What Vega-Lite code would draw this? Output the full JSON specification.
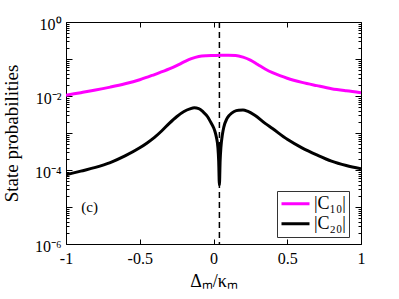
{
  "$schema": "https://vega.github.io/schema/vega-lite/v6.json",
  "width": 295,
  "height": 222,
  "autosize": "none",
  "padding": {"left": 66, "top": 22, "right": 38, "bottom": 55},
  "background": "white",
  "config": {
    "view": {"stroke": "black", "strokeWidth": 1},
    "font": "Liberation Serif",
    "text": {"font": "Liberation Serif"},
    "axis": {"grid": false, "domain": false, "tickColor": "black", "labelColor": "black", "titleColor": "black", "labelFont": "Liberation Serif", "titleFont": "Liberation Serif", "titleFontWeight": "normal"},
    "legend": {"labelFont": "Liberation Serif"}
  },
  "datasets": {
    "curves": [
      {"x": -1, "p": 0.01047, "s": "|C₁₀|"},
      {"x": -0.9, "p": 0.0123, "s": "|C₁₀|"},
      {"x": -0.8, "p": 0.01445, "s": "|C₁₀|"},
      {"x": -0.7, "p": 0.01738, "s": "|C₁₀|"},
      {"x": -0.6, "p": 0.02138, "s": "|C₁₀|"},
      {"x": -0.5, "p": 0.02754, "s": "|C₁₀|"},
      {"x": -0.4, "p": 0.03802, "s": "|C₁₀|"},
      {"x": -0.3, "p": 0.0537, "s": "|C₁₀|"},
      {"x": -0.25, "p": 0.06607, "s": "|C₁₀|"},
      {"x": -0.2, "p": 0.08318, "s": "|C₁₀|"},
      {"x": -0.15, "p": 0.1023, "s": "|C₁₀|"},
      {"x": -0.1, "p": 0.1175, "s": "|C₁₀|"},
      {"x": -0.05, "p": 0.123, "s": "|C₁₀|"},
      {"x": 0, "p": 0.1245, "s": "|C₁₀|"},
      {"x": 0.05, "p": 0.1259, "s": "|C₁₀|"},
      {"x": 0.1, "p": 0.1259, "s": "|C₁₀|"},
      {"x": 0.15, "p": 0.1245, "s": "|C₁₀|"},
      {"x": 0.2, "p": 0.1122, "s": "|C₁₀|"},
      {"x": 0.25, "p": 0.0933, "s": "|C₁₀|"},
      {"x": 0.3, "p": 0.0708, "s": "|C₁₀|"},
      {"x": 0.35, "p": 0.0537, "s": "|C₁₀|"},
      {"x": 0.4, "p": 0.0427, "s": "|C₁₀|"},
      {"x": 0.45, "p": 0.0355, "s": "|C₁₀|"},
      {"x": 0.5, "p": 0.0302, "s": "|C₁₀|"},
      {"x": 0.6, "p": 0.0234, "s": "|C₁₀|"},
      {"x": 0.7, "p": 0.0191, "s": "|C₁₀|"},
      {"x": 0.8, "p": 0.0158, "s": "|C₁₀|"},
      {"x": 0.9, "p": 0.0138, "s": "|C₁₀|"},
      {"x": 1, "p": 0.0123, "s": "|C₁₀|"},
      {"x": -1, "p": 0.0000741, "s": "|C₂₀|"},
      {"x": -0.9, "p": 0.0000933, "s": "|C₂₀|"},
      {"x": -0.8, "p": 0.0001175, "s": "|C₂₀|"},
      {"x": -0.7, "p": 0.0001585, "s": "|C₂₀|"},
      {"x": -0.6, "p": 0.0002399, "s": "|C₂₀|"},
      {"x": -0.5, "p": 0.0003981, "s": "|C₂₀|"},
      {"x": -0.45, "p": 0.000537, "s": "|C₂₀|"},
      {"x": -0.4, "p": 0.0007586, "s": "|C₂₀|"},
      {"x": -0.35, "p": 0.001148, "s": "|C₂₀|"},
      {"x": -0.3, "p": 0.00182, "s": "|C₂₀|"},
      {"x": -0.25, "p": 0.002754, "s": "|C₂₀|"},
      {"x": -0.2, "p": 0.003802, "s": "|C₂₀|"},
      {"x": -0.16, "p": 0.004467, "s": "|C₂₀|"},
      {"x": -0.13, "p": 0.004786, "s": "|C₂₀|"},
      {"x": -0.1, "p": 0.004571, "s": "|C₂₀|"},
      {"x": -0.07, "p": 0.003715, "s": "|C₂₀|"},
      {"x": -0.04, "p": 0.002754, "s": "|C₂₀|"},
      {"x": -0.02, "p": 0.001995, "s": "|C₂₀|"},
      {"x": 0, "p": 0.001413, "s": "|C₂₀|"},
      {"x": 0.01, "p": 0.001096, "s": "|C₂₀|"},
      {"x": 0.02, "p": 0.0007586, "s": "|C₂₀|"},
      {"x": 0.03, "p": 0.0003981, "s": "|C₂₀|"},
      {"x": 0.035, "p": 0.0001778, "s": "|C₂₀|"},
      {"x": 0.04, "p": 0.00003981, "s": "|C₂₀|"},
      {"x": 0.045, "p": 0.0001778, "s": "|C₂₀|"},
      {"x": 0.05, "p": 0.0003981, "s": "|C₂₀|"},
      {"x": 0.06, "p": 0.0008913, "s": "|C₂₀|"},
      {"x": 0.07, "p": 0.001445, "s": "|C₂₀|"},
      {"x": 0.09, "p": 0.002399, "s": "|C₂₀|"},
      {"x": 0.11, "p": 0.00309, "s": "|C₂₀|"},
      {"x": 0.14, "p": 0.003802, "s": "|C₂₀|"},
      {"x": 0.17, "p": 0.004121, "s": "|C₂₀|"},
      {"x": 0.2, "p": 0.004169, "s": "|C₂₀|"},
      {"x": 0.23, "p": 0.00389, "s": "|C₂₀|"},
      {"x": 0.28, "p": 0.00302, "s": "|C₂₀|"},
      {"x": 0.35, "p": 0.00182, "s": "|C₂₀|"},
      {"x": 0.4, "p": 0.001318, "s": "|C₂₀|"},
      {"x": 0.5, "p": 0.0006761, "s": "|C₂₀|"},
      {"x": 0.6, "p": 0.0003981, "s": "|C₂₀|"},
      {"x": 0.7, "p": 0.000257, "s": "|C₂₀|"},
      {"x": 0.8, "p": 0.0001738, "s": "|C₂₀|"},
      {"x": 0.9, "p": 0.0001318, "s": "|C₂₀|"},
      {"x": 1, "p": 0.0001072, "s": "|C₂₀|"}
    ]
  },
  "layer": [
    {
      "data": {"values": [{"x": 0.04}]},
      "mark": {"type": "rule", "color": "black", "strokeWidth": 1.5, "strokeDash": [6, 4]},
      "encoding": {
        "x": {"field": "x", "type": "quantitative", "scale": {"domain": [-1, 1], "nice": false}, "axis": null}
      }
    },
    {
      "data": {"name": "curves"},
      "mark": {"type": "line", "strokeWidth": 3, "clip": true, "interpolate": "monotone"},
      "encoding": {
        "x": {"field": "x", "type": "quantitative", "scale": {"domain": [-1, 1], "nice": false},
          "axis": {"orient": "bottom", "values": [-1, -0.5, 0, 0.5, 1], "tickSize": -5, "labelPadding": 11, "labelFontSize": 16, "labelFont": "Liberation Serif", "labelExpr": "'' + datum.value", "title": "Δₘ/κₘ", "titleFont": "Liberation Serif", "titleFontSize": 18, "titlePadding": 6, "labelFlush": false}},
        "y": {"field": "p", "type": "quantitative", "scale": {"type": "log", "domain": [0.000001, 1], "nice": false},
          "axis": {"orient": "left", "values": [0.000001, 0.00001, 0.0001, 0.001, 0.01, 0.1, 1], "tickSize": -6, "labelPadding": 11, "labelFontSize": 16, "labelFont": "Liberation Serif", "labelOffset": 2,
            "labelExpr": "round(log(datum.value)/LN10) == 0 ? '10⁰' : round(log(datum.value)/LN10) == -2 ? '10⁻²' : round(log(datum.value)/LN10) == -4 ? '10⁻⁴' : round(log(datum.value)/LN10) == -6 ? '10⁻⁶' : ''",
            "title": "State probabilities", "titleFont": "Liberation Serif", "titleFontSize": 19, "titlePadding": 13}},
        "color": {"field": "s", "type": "nominal", "scale": {"domain": ["|C₁₀|", "|C₂₀|"], "range": ["#ff00ff", "#000000"]},
          "legend": {"orient": "none", "legendX": 211, "legendY": 169, "title": null, "symbolType": "stroke", "symbolSize": 784, "symbolStrokeWidth": 3, "clipHeight": 19.5, "labelFontSize": 18, "labelFont": "Liberation Serif", "labelColor": "black", "strokeColor": "#333", "fillColor": "white", "padding": 3, "rowPadding": 0, "labelOffset": 3}}
      }
    },
    {
      "data": {"values": [{"p": 1}]},
      "mark": {"type": "point", "opacity": 0},
      "encoding": {
        "y": {"field": "p", "type": "quantitative", "scale": {"type": "log", "domain": [0.000001, 1], "nice": false},
          "axis": {"orient": "left", "values": [0.000002,0.000003,0.000004,0.000005,0.000006,0.000007,0.000008,0.000009,0.00002,0.00003,0.00004,0.00005,0.00006,0.00007,0.00008,0.00009,0.0002,0.0003,0.0004,0.0005,0.0006,0.0007,0.0008,0.0009,0.002,0.003,0.004,0.005,0.006,0.007,0.008,0.009,0.02,0.03,0.04,0.05,0.06,0.07,0.08,0.09,0.2,0.3,0.4,0.5,0.6,0.7,0.8,0.9], "tickSize": -3, "labels": false, "title": null}}
      }
    },
    {
      "data": {"values": [{"p": 1}]},
      "mark": {"type": "point", "opacity": 0},
      "encoding": {
        "y": {"field": "p", "type": "quantitative", "scale": {"type": "log", "domain": [0.000001, 1], "nice": false},
          "axis": {"orient": "right", "values": [0.000001, 0.00001, 0.0001, 0.001, 0.01, 0.1, 1], "tickSize": -6, "labels": false, "title": null}}
      }
    },
    {
      "data": {"values": [{"p": 1}]},
      "mark": {"type": "point", "opacity": 0},
      "encoding": {
        "y": {"field": "p", "type": "quantitative", "scale": {"type": "log", "domain": [0.000001, 1], "nice": false},
          "axis": {"orient": "right", "values": [0.000002,0.000003,0.000004,0.000005,0.000006,0.000007,0.000008,0.000009,0.00002,0.00003,0.00004,0.00005,0.00006,0.00007,0.00008,0.00009,0.0002,0.0003,0.0004,0.0005,0.0006,0.0007,0.0008,0.0009,0.002,0.003,0.004,0.005,0.006,0.007,0.008,0.009,0.02,0.03,0.04,0.05,0.06,0.07,0.08,0.09,0.2,0.3,0.4,0.5,0.6,0.7,0.8,0.9], "tickSize": -3, "labels": false, "title": null}}
      }
    },
    {
      "data": {"values": [{"x": -1}]},
      "mark": {"type": "point", "opacity": 0},
      "encoding": {
        "x": {"field": "x", "type": "quantitative", "scale": {"domain": [-1, 1], "nice": false},
          "axis": {"orient": "top", "values": [-1, -0.5, 0, 0.5, 1], "tickSize": -5, "labels": false, "title": null}}
      }
    },
    {
      "data": {"values": [{"x": -0.84, "p": 0.00001, "t": "(c)"}]},
      "mark": {"type": "text", "fontSize": 15, "font": "Liberation Serif", "color": "black"},
      "encoding": {
        "x": {"field": "x", "type": "quantitative", "scale": {"domain": [-1, 1], "nice": false}, "axis": null},
        "y": {"field": "p", "type": "quantitative", "scale": {"type": "log", "domain": [0.000001, 1], "nice": false}, "axis": null},
        "text": {"field": "t"}
      }
    }
  ],
  "resolve": {"axis": {"x": "independent", "y": "independent"}}
}
